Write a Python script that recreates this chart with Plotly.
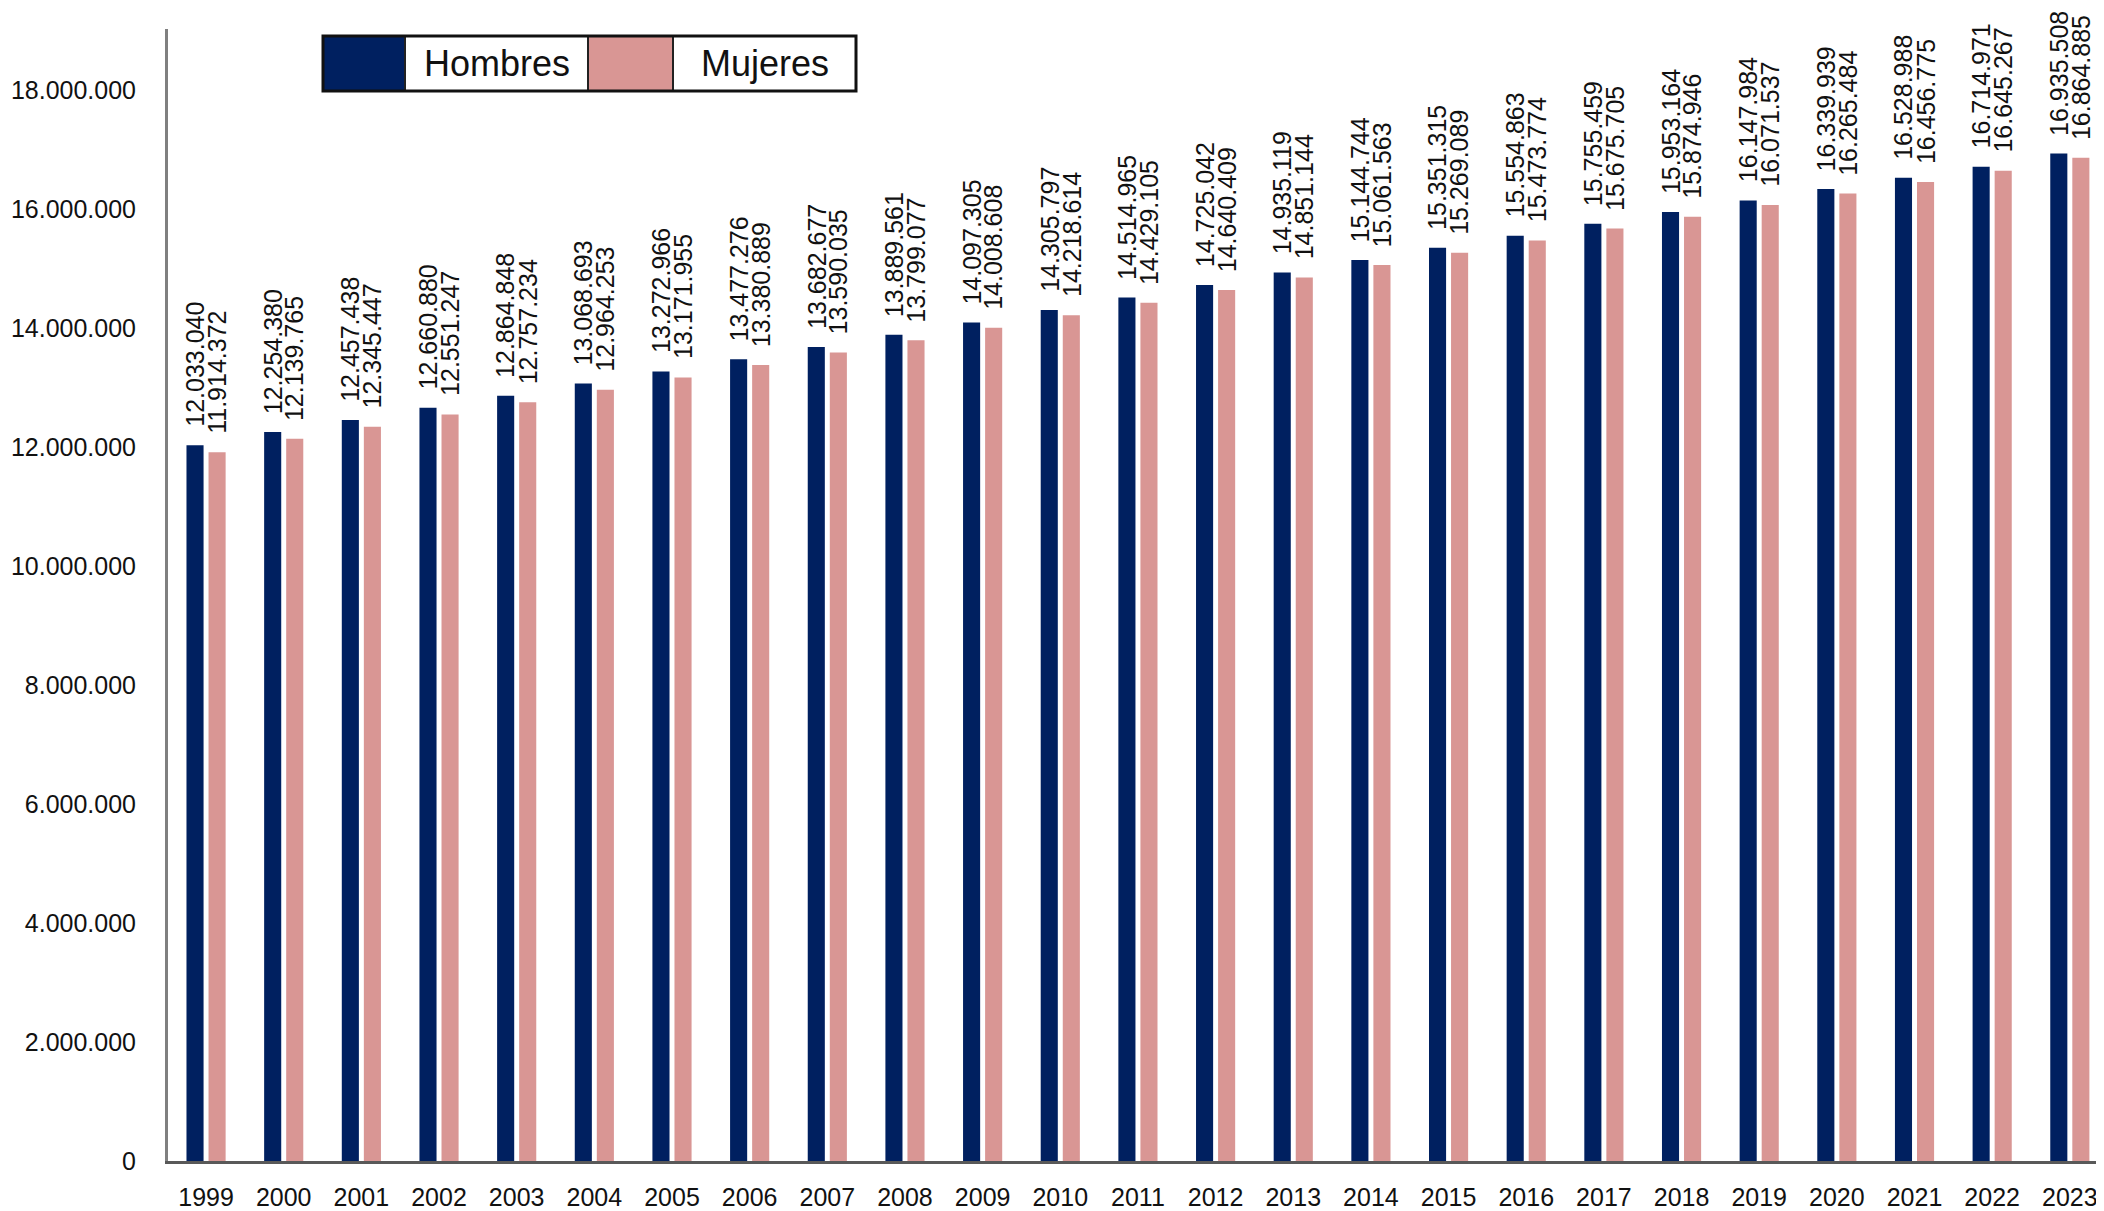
import plotly.graph_objects as go

years = [str(y) for y in range(1999, 2024)]
hombres = [12033040, 12254380, 12457438, 12660880, 12864848, 13068693, 13272966,
           13477276, 13682677, 13889561, 14097305, 14305797, 14514965, 14725042,
           14935119, 15144744, 15351315, 15554863, 15755459, 15953164, 16147984,
           16339939, 16528988, 16714971, 16935508]
mujeres = [11914372, 12139765, 12345447, 12551247, 12757234, 12964253, 13171955,
           13380889, 13590035, 13799077, 14008608, 14218614, 14429105, 14640409,
           14851144, 15061563, 15269089, 15473774, 15675705, 15874946, 16071537,
           16265484, 16456775, 16645267, 16864885]
series_names = ["Hombres", "Mujeres"]
series_colors = ["#002060", "#D99694"]
y_tickvals = [0, 2000000, 4000000, 6000000, 8000000, 10000000, 12000000,
              14000000, 16000000, 18000000]


def fmt(v):
    return f"{v:,}".replace(",", ".")


OFF = 8  # default page body margin
W, H = 2104 - OFF, 1211 - OFF
ML, MT = 168 - OFF, 29 - OFF
MR = 0
MB = H - (1161 - OFF)
PW, PH = W - ML - MR, H - MT - MB

FONT = "Liberation Sans, Arial, sans-serif"

fig = go.Figure()
for name, vals, col in zip(series_names, [hombres, mujeres], series_colors):
    fig.add_trace(go.Bar(x=years, y=vals, name=name, marker=dict(color=col, line=dict(width=0)),
                         showlegend=False))

# data labels (category index used as x so the year strings are not read as numbers)
annotations = []
for vals, xs in zip([hombres, mujeres], [-11, 11]):
    for i, v in enumerate(vals):
        annotations.append(dict(x=i, y=v, xref="x", yref="y", text=fmt(v), showarrow=False,
                                textangle=-90, xanchor="center", yanchor="bottom",
                                xshift=xs, yshift=17, borderpad=0,
                                font=dict(family=FONT, size=25, color="#111111")))


# legend drawn as a boxed row of cells (positions given in page pixels)
def px_x(p):
    return (p - OFF - ML) / PW


def px_y(p):
    return (H - MB - (p - OFF)) / PH


shapes = []
leg_top, leg_bot = 36, 91
cells = [(323, 405, series_colors[0]), (405, 588, "white"), (588, 673, series_colors[1]), (673, 856, "white")]
for x0, x1, c in cells:
    shapes.append(dict(type="rect", xref="paper", yref="paper", x0=px_x(x0), x1=px_x(x1),
                       y0=px_y(leg_bot), y1=px_y(leg_top), fillcolor=c,
                       line=dict(color="#222222", width=2), layer="above"))
shapes.append(dict(type="rect", xref="paper", yref="paper", x0=px_x(323), x1=px_x(856),
                   y0=px_y(leg_bot), y1=px_y(leg_top), fillcolor="rgba(0,0,0,0)",
                   line=dict(color="#111111", width=3), layer="above"))
for (x0, x1), name in zip([(405, 588), (673, 856)], series_names):
    annotations.append(dict(x=px_x((x0 + x1) / 2), y=px_y((leg_top + leg_bot) / 2), xref="paper", yref="paper",
                            text=name, showarrow=False, xanchor="center", yanchor="middle",
                            font=dict(family=FONT, size=36, color="#111111")))

fig.update_layout(
    width=W, height=H,
    margin=dict(l=ML, r=MR, t=MT, b=MB, pad=0, autoexpand=False),
    paper_bgcolor="white", plot_bgcolor="white",
    barmode="group", bargap=0.432, bargroupgap=0.225,
    annotations=annotations, shapes=shapes,
    xaxis=dict(type="category", range=[-0.49, 24.44], showgrid=False, zeroline=False,
               automargin=False,
               showline=True, linecolor="#595959", linewidth=3, ticks="",
               ticklabelstandoff=12,
               tickfont=dict(family=FONT, size=25, color="#111111")),
    yaxis=dict(range=[0, 19030000], showgrid=False, zeroline=False,
               automargin=False,
               showline=True, linecolor="#808080", linewidth=3, ticks="",
               tickvals=y_tickvals, ticktext=[fmt(v) for v in y_tickvals],
               ticklabelstandoff=24,
               tickfont=dict(family=FONT, size=25, color="#111111")),
)

fig.write_html("out.html")
